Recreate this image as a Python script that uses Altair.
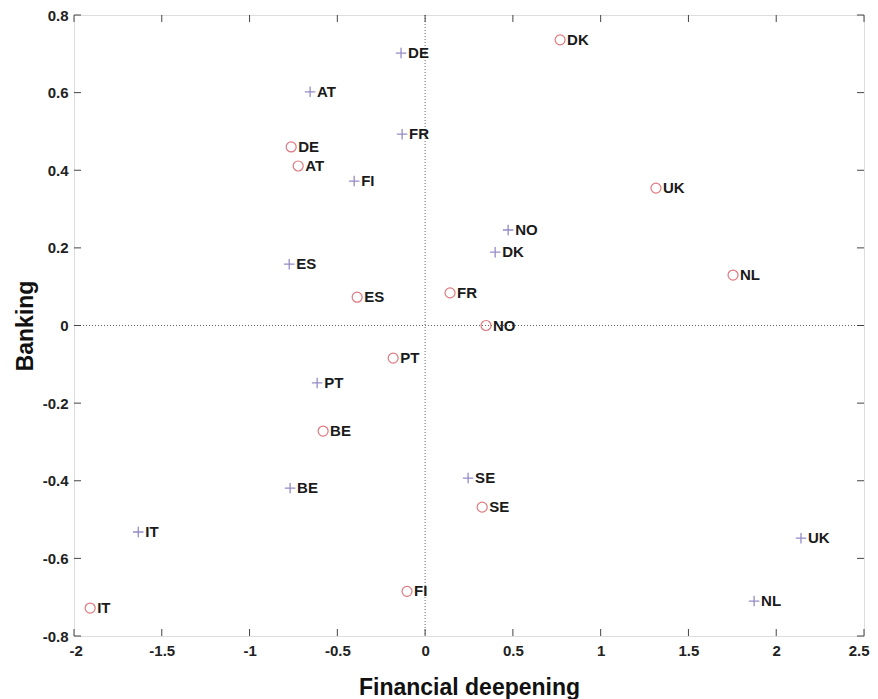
import altair as alt
import pandas as pd

# ---- data ----
countries_plus = ["DE", "AT", "FR", "FI", "NO", "DK", "ES", "PT", "BE", "SE", "IT", "UK", "NL"]
plus_x = [-0.137, -0.655, -0.131, -0.404, 0.473, 0.399, -0.774, -0.615, -0.769, 0.245, -1.634, 2.141, 1.874]
plus_y = [0.702, 0.602, 0.493, 0.372, 0.246, 0.189, 0.158, -0.148, -0.419, -0.393, -0.532, -0.548, -0.710]

countries_circle = ["DK", "DE", "AT", "UK", "NL", "ES", "FR", "NO", "PT", "BE", "SE", "FI", "IT"]
circle_x = [0.769, -0.763, -0.723, 1.315, 1.754, -0.387, 0.142, 0.347, -0.182, -0.581, 0.325, -0.103, -1.908]
circle_y = [0.736, 0.460, 0.411, 0.354, 0.130, 0.073, 0.084, 0.0, -0.084, -0.272, -0.468, -0.685, -0.728]

x_ticks = [-2, -1.5, -1, -0.5, 0, 0.5, 1, 1.5, 2, 2.5]
y_ticks = [-0.8, -0.6, -0.4, -0.2, 0, 0.2, 0.4, 0.6, 0.8]

W, H = 790, 621
FONT = "Liberation Sans"

plus_df = pd.DataFrame({"x": plus_x, "y": plus_y, "label": countries_plus})
circle_df = pd.DataFrame({"x": circle_x, "y": circle_y, "label": countries_circle})
xt_df = pd.DataFrame({"x": x_ticks})
yt_df = pd.DataFrame({"y": y_ticks})
zx_df = pd.DataFrame({"x": [0]})
zy_df = pd.DataFrame({"y": [0]})

xscale = alt.Scale(domain=[-2, 2.5], nice=False, zero=False)
yscale = alt.Scale(domain=[-0.8, 0.8], nice=False, zero=False)

xaxis = alt.Axis(values=x_ticks, title="Financial deepening", grid=False, ticks=False,
                 domain=False, labelExpr="toString(datum.value)", labelPadding=7,
                 labelFont=FONT, labelFontSize=15, labelFontWeight="bold", labelColor="#222",
                 titleFont=FONT, titleFontSize=23, titleFontWeight="bold", titleColor="#111",
                 titlePadding=18, labelFlush=True, labelFlushOffset=5)
yaxis = alt.Axis(values=y_ticks, title="Banking", grid=False, ticks=False,
                 domain=False, labelExpr="toString(datum.value)", labelPadding=6,
                 labelFont=FONT, labelFontSize=15, labelFontWeight="bold", labelColor="#222",
                 titleFont=FONT, titleFontSize=23, titleFontWeight="bold", titleColor="#111",
                 titlePadding=5, labelFlush=False)

X = lambda: alt.X("x:Q", scale=xscale, axis=xaxis)
Y = lambda: alt.Y("y:Q", scale=yscale, axis=yaxis)

zero_v = alt.Chart(zx_df).mark_rule(color="#666", strokeDash=[1, 2], strokeWidth=1).encode(x=X())
zero_h = alt.Chart(zy_df).mark_rule(color="#666", strokeDash=[1, 2], strokeWidth=1).encode(y=Y())

tick_color = "#444"
tick_top = alt.Chart(xt_df).mark_rule(color=tick_color).encode(x=X(), y=alt.value(0), y2=alt.value(7))
tick_bot = alt.Chart(xt_df).mark_rule(color=tick_color).encode(x=X(), y=alt.value(H), y2=alt.value(H - 7))
tick_left = alt.Chart(yt_df).mark_rule(color=tick_color).encode(y=Y(), x=alt.value(0), x2=alt.value(7))
tick_right = alt.Chart(yt_df).mark_rule(color=tick_color).encode(y=Y(), x=alt.value(W), x2=alt.value(W - 7))

plus_pts = alt.Chart(plus_df).mark_point(
    shape="M-1,0H1M0,-1V1", size=110, filled=False, color="#6a5cb0", strokeWidth=1.3
).encode(x=X(), y=Y())
circle_pts = alt.Chart(circle_df).mark_point(
    shape="circle", size=100, filled=False, color="#d2404c", strokeWidth=1.2
).encode(x=X(), y=Y())

text_props = dict(align="left", baseline="middle", dx=7, font=FONT, fontSize=15,
                  fontWeight="bold", color="#1a1a1a")
plus_txt = alt.Chart(plus_df).mark_text(**text_props).encode(x=X(), y=Y(), text="label:N")
circle_txt = alt.Chart(circle_df).mark_text(**text_props).encode(x=X(), y=Y(), text="label:N")

chart = alt.layer(
    zero_v, zero_h, tick_top, tick_bot, tick_left, tick_right,
    plus_pts, circle_pts, plus_txt, circle_txt
).properties(
    width=W, height=H,
    autosize=alt.AutoSizeParams(type="none"),
    padding={"left": 66, "top": 7, "right": 6, "bottom": 63},
).configure_view(
    stroke="#444", strokeWidth=1.2
).configure(background="white")

chart.save("out.html", embed_options={"renderer": "svg", "actions": False})
